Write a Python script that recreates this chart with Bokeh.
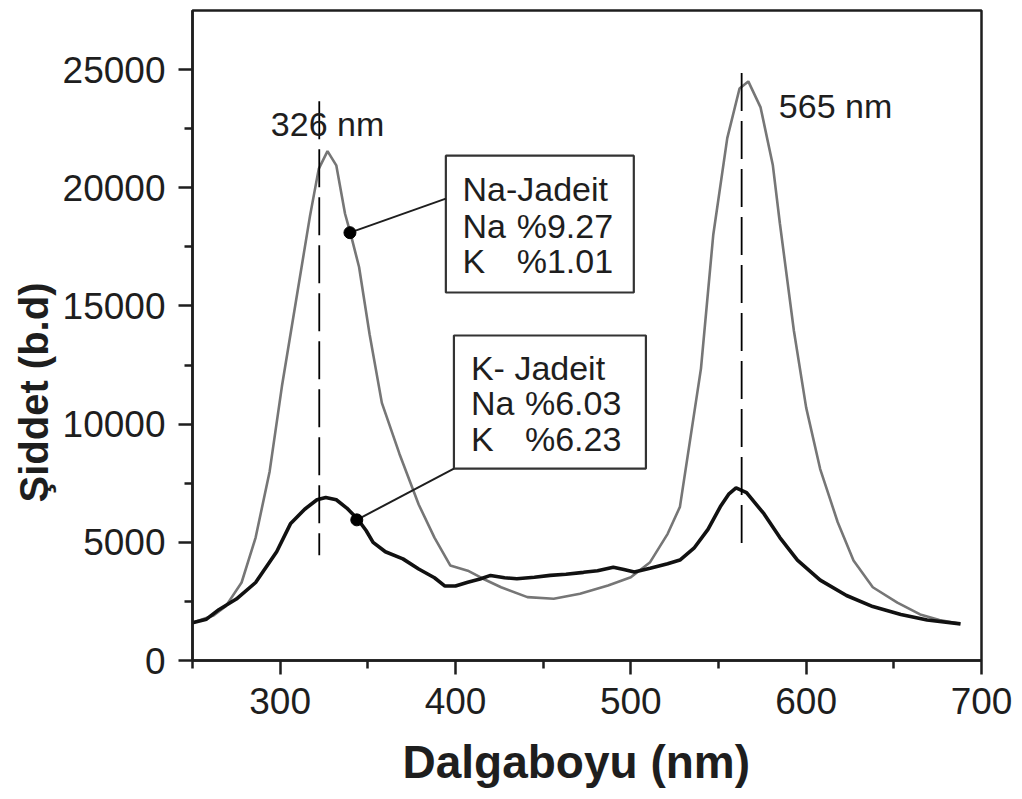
from bokeh.plotting import figure
from bokeh.models import FixedTicker, Range1d, Title
from bokeh.core.properties import value
from bokeh.embed import file_html
from bokeh.resources import INLINE

# ---------------- data ----------------
na_wavelength = [250, 262, 269, 278, 286, 294, 301, 309, 317, 322, 327, 332, 337, 340,
                 345, 351, 358, 368, 379, 388, 397, 407, 416, 426, 441, 456, 471, 487,
                 500, 511, 521, 528, 540, 547, 555, 562, 567, 574, 581, 585, 593, 600,
                 608, 618, 627, 638, 652, 665, 676, 688]
na_intensity = [1600, 1900, 2300, 3300, 5200, 8000, 11600, 15200, 18800, 20800, 21550,
                20950, 18900, 18100, 16650, 13800, 10900, 8750, 6600, 5200, 4020, 3800,
                3450, 3100, 2680, 2610, 2820, 3170, 3520, 4160, 5360, 6500, 12350, 18000,
                22100, 24200, 24500, 23400, 20950, 18500, 13950, 10700, 8100, 5850, 4230,
                3100, 2450, 1950, 1710, 1550]

k_wavelength = [250, 258, 265, 275, 286, 298, 306, 314, 321, 326, 332, 338, 344, 349,
                353, 360, 370, 379, 388, 394, 400, 407, 414, 420, 428, 435, 445, 454,
                463, 473, 481, 490, 496, 502, 511, 521, 528, 536, 544, 551, 556, 560,
                566, 576, 585, 595, 608, 623, 638, 654, 669, 688]
k_intensity = [1600, 1750, 2150, 2600, 3300, 4600, 5800, 6400, 6800, 6900, 6800, 6450,
               6000, 5500, 5000, 4600, 4300, 3870, 3500, 3150, 3150, 3310, 3450, 3600,
               3500, 3460, 3520, 3600, 3650, 3730, 3800, 3950, 3850, 3740, 3900, 4090,
               4250, 4750, 5550, 6500, 7050, 7300, 7100, 6200, 5200, 4250, 3400, 2750,
               2280, 1950, 1710, 1550]

x_major_ticks = [300, 400, 500, 600, 700]
x_minor_ticks = [250, 350, 450, 550, 650]
y_major_ticks = [0, 5000, 10000, 15000, 20000, 25000]
y_minor_ticks = [2500, 7500, 12500, 17500, 22500]

peak_line_x = [322.3, 563.2]
peak_line_low = [4450, 4550]
peak_line_high = [23660, 24860]
peak_labels = ["326 nm", "565 nm"]

na_marker = (339.8, 18100)
k_marker = (343.7, 5950)

na_box_title = "Na-Jadeit"
na_box_names = ["Na", "K"]
na_box_values = ["%9.27", "%1.01"]
k_box_title = "K- Jadeit"
k_box_names = ["Na", "K"]
k_box_values = ["%6.03", "%6.23"]

x_label = "Dalgaboyu (nm)"
y_label = "Şiddet (b.d)"

# ---------------- figure ----------------
FONT = "Liberation Sans"
INK = "#1e1e1e"

p = figure(frame_width=789, frame_height=650,
           x_range=Range1d(250, 700), y_range=Range1d(0, 27500),
           output_backend="svg", toolbar_location=None,
           min_border_left=192, min_border_right=41,
           min_border_top=10, min_border_bottom=139,
           background_fill_color="white", border_fill_color="white")
p.grid.visible = False
p.outline_line_color = INK
p.outline_line_width = 2.5

p.xaxis.ticker = FixedTicker(ticks=x_major_ticks, minor_ticks=x_minor_ticks)
p.yaxis.ticker = FixedTicker(ticks=y_major_ticks, minor_ticks=y_minor_ticks)
for ax in (p.xaxis[0], p.yaxis[0]):
    ax.axis_line_color = INK
    ax.axis_line_width = 2.5
    ax.major_tick_line_color = INK
    ax.major_tick_line_width = 2.5
    ax.minor_tick_line_color = INK
    ax.minor_tick_line_width = 2.5
    ax.major_tick_out = 14
    ax.major_tick_in = 0
    ax.minor_tick_out = 8
    ax.minor_tick_in = 0
    ax.major_label_text_font = FONT
    ax.major_label_text_font_size = "37px"
    ax.major_label_text_color = INK
p.xaxis.major_label_standoff = 13
p.yaxis.major_label_standoff = 13

# axis titles (placed like the reference, which is not centred)
p.add_layout(Title(text=y_label, align="left", offset=158, standoff=8,
                   text_font=FONT, text_font_size="40px", text_font_style="bold",
                   text_color=INK), "left")
p.add_layout(Title(text=x_label, align="left", offset=210, standoff=34,
                   text_font=FONT, text_font_size="46px", text_font_style="bold",
                   text_color=INK), "below")

# curves
p.line(na_wavelength, na_intensity, line_color="#767676", line_width=2.6)
p.line(k_wavelength, k_intensity, line_color="#111111", line_width=3.6)

# dashed peak lines
for xv, lo, hi in zip(peak_line_x, peak_line_low, peak_line_high):
    p.line([xv, xv], [hi, lo], line_color="black", line_width=1.8, line_dash="38 10")

p.text(x=[294.7, 584.4], y=[22690, 23450], text=peak_labels,
       text_font=value(FONT), text_font_size=value("34px"), text_color=INK,
       text_align="left", text_baseline="middle")

# annotation boxes
p.quad(left=[394.5, 399.1], right=[501.7, 508.6], bottom=[15570, 8120], top=[21360, 13750],
       fill_color="white", line_color="#333333", line_width=2.2)

txt = dict(text_font=value(FONT), text_font_size=value("34px"), text_color=INK,
           text_align="left", text_baseline="middle")
p.text(x=[404.0], y=[19940], text=[na_box_title], **txt)
p.text(x=[404.0, 404.0], y=[18380, 16900], text=na_box_names, **txt)
p.text(x=[434.9, 434.9], y=[18380, 16900], text=na_box_values, **txt)
p.text(x=[408.8], y=[12380], text=[k_box_title], **txt)
p.text(x=[408.8, 408.8], y=[10900, 9380], text=k_box_names, **txt)
p.text(x=[439.6, 439.6], y=[10900, 9380], text=k_box_values, **txt)

# connector lines and markers
p.line([na_marker[0], 394.5], [na_marker[1], 19540], line_color=INK, line_width=2)
p.line([k_marker[0], 399.1], [k_marker[1], 8120], line_color=INK, line_width=2)
p.scatter([na_marker[0], k_marker[0]], [na_marker[1], k_marker[1]],
          size=12, color="black")

open("out.html", "w").write(file_html(p, INLINE))
